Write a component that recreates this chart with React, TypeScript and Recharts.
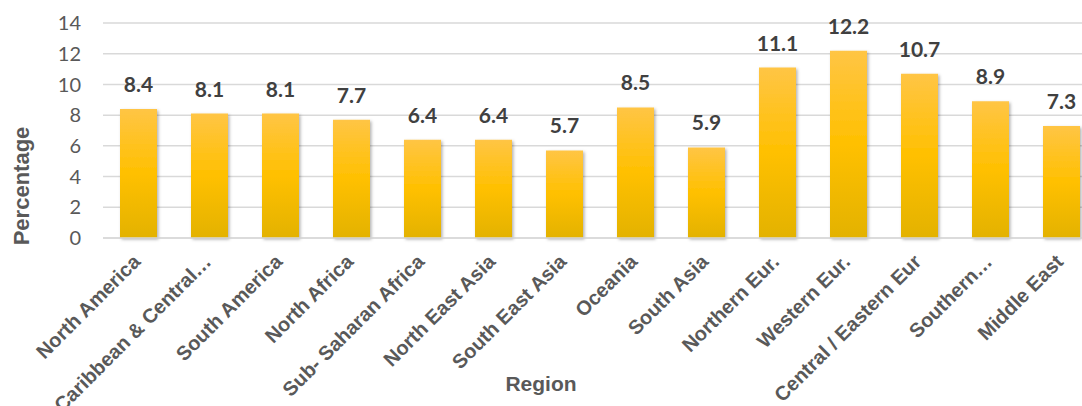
import React from "react"
import { BarChart, Bar, XAxis, YAxis, CartesianGrid, LabelList, Label } from "recharts"

const regions = [
  "North America",
  "Caribbean & Central…",
  "South America",
  "North Africa",
  "Sub- Saharan Africa",
  "North East Asia",
  "South East Asia",
  "Oceania",
  "South Asia",
  "Northern Eur.",
  "Western Eur.",
  "Central / Eastern Eur",
  "Southern…",
  "Middle East",
]

const percentages = [8.4, 8.1, 8.1, 7.7, 6.4, 6.4, 5.7, 8.5, 5.9, 11.1, 12.2, 10.7, 8.9, 7.3]

const yTicks = [0, 2, 4, 6, 8, 10, 12, 14]

const data = regions.map((region, i) => ({ region, value: percentages[i] }))

const axisGray = "#595959"
const arialStack = "Arial, 'Liberation Sans', sans-serif"

function RegionTick(props: any) {
  const { x, y, payload } = props
  return (
    <text
      transform={`translate(${x + 3},${y + 17}) rotate(-45)`}
      textAnchor="end"
      fill={axisGray}
      fontFamily={arialStack}
      fontWeight="bold"
      fontSize={20}
    >
      {payload.value}
    </text>
  )
}

export default function App() {
  return (
    <div style={{ position: "absolute", left: 0, top: 0, width: 1082, height: 406, overflow: "hidden", background: "#fff" }}>
      <BarChart
        width={1097}
        height={406}
        data={data}
        margin={{ top: 23, right: 0, bottom: 0, left: 0 }}
      >
        <defs>
          <linearGradient id="goldFill" x1="0" y1="0" x2="0" y2="1">
            <stop offset="0%" stopColor="#FFC545" />
            <stop offset="50%" stopColor="#FFC000" />
            <stop offset="100%" stopColor="#E3B200" />
          </linearGradient>
          <filter id="barShadow" x="-20%" y="-5%" width="140%" height="115%">
            <feDropShadow dx="1.5" dy="1.5" stdDeviation="1.5" floodColor="#000" floodOpacity="0.3" />
          </filter>
        </defs>
        <CartesianGrid vertical={false} stroke="#d9d9d9" strokeWidth={1.5} />
        <XAxis
          dataKey="region"
          height={168}
          interval={0}
          tickLine={false}
          axisLine={{ stroke: "#d9d9d9", strokeWidth: 1.5 }}
          tick={<RegionTick />}
        >
          <Label
            content={() => (
              <text
                x={541}
                y={391}
                textAnchor="middle"
                fill={axisGray}
                fontFamily={arialStack}
                fontWeight="bold"
                fontSize={21}
              >
                Region
              </text>
            )}
          />
        </XAxis>
        <YAxis
          width={103}
          domain={[0, 14]}
          ticks={yTicks}
          interval={0}
          tickLine={false}
          axisLine={false}
          tickSize={0}
          tickMargin={22}
          tick={{ fill: axisGray, fontFamily: "Lato, sans-serif", fontSize: 20 }}
        >
          <Label
            content={() => (
              <text
                transform="translate(29,186) rotate(-90)"
                textAnchor="middle"
                fill={axisGray}
                fontFamily={arialStack}
                fontWeight="bold"
                fontSize={22}
              >
                Percentage
              </text>
            )}
          />
        </YAxis>
        <Bar
          dataKey="value"
          fill="url(#goldFill)"
          barSize={37}
          filter="url(#barShadow)"
          isAnimationActive={false}
        >
          <LabelList
            dataKey="value"
            position="top"
            offset={17}
            fill="#404040"
            fontFamily="Lato, sans-serif"
            fontWeight="bold"
            fontSize={21}
            formatter={(v: any) => Number(v).toFixed(1)}
          />
        </Bar>
      </BarChart>
    </div>
  )
}
